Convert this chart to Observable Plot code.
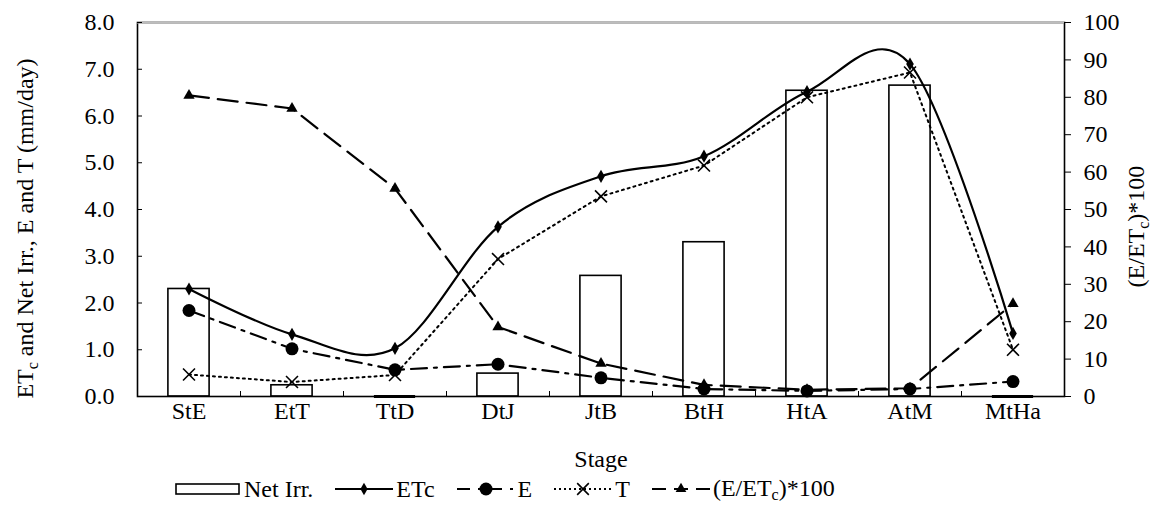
<!DOCTYPE html>
<html>
<head>
<meta charset="utf-8">
<script src="https://cdn.jsdelivr.net/npm/d3@7"></script>
<script src="https://cdn.jsdelivr.net/npm/@observablehq/plot@0.6"></script>
<style>
  body { margin: 0; background: #fff; font-family: "Liberation Serif", "Times New Roman", serif; color: #000; }
  #chart svg { display: block; overflow: visible; }
  #legend { width: 1160px; height: 34px; box-sizing: border-box; padding-left: 175px; display: flex; justify-content: flex-start; align-items: center; gap: 22px; font-size: 24px; font-family: "Liberation Serif", "Times New Roman", serif; }
  .item { display: flex; align-items: center; }
  .item svg { display: block; margin-right: 3px; }
</style>
</head>
<body>
<div id="chart"></div>
<div id="legend"></div>
<script>
// ---- data ----
const stages  = ["StE", "EtT", "TtD", "DtJ", "JtB", "BtH", "HtA", "AtM", "MtHa"];
const netIrr  = [2.30, 0.24, 0.00, 0.49, 2.58, 3.30, 6.54, 6.65, 0.00];
const etc     = [2.30, 1.33, 1.03, 3.63, 4.71, 5.14, 6.52, 7.11, 1.35];
const evap    = [1.84, 1.02, 0.57, 0.69, 0.40, 0.16, 0.12, 0.16, 0.32];
const transp  = [0.47, 0.31, 0.46, 2.94, 4.28, 4.94, 6.40, 6.93, 1.00];
const ratio   = [80.5, 77.0, 55.6, 18.6, 8.8, 3.1, 1.8, 2.2, 24.8];
const leftTicks  = [0, 1, 2, 3, 4, 5, 6, 7, 8];
const rightTicks = [0, 10, 20, 30, 40, 50, 60, 70, 80, 90, 100];
const legendLabels = ["Net Irr.", "ETc", "E", "T", "(E/ETc)*100"];

// secondary axis (0–100) mapped onto primary (0–8)
const k = 8 / 100;

const rows = stages.map((s, i) => ({
  i, stage: s, net: netIrr[i], etc: etc[i], e: evap[i], t: transp[i], r: ratio[i]
}));
const idx = stages.map((s, i) => i);
const bounds = idx.slice(1).map(i => i - 0.5);

const FS = 24;
const FONT = "'Liberation Serif', 'Times New Roman', serif";

const chart = Plot.plot({
  width: 1160,
  height: 472,
  marginLeft: 137,
  marginRight: 96,
  marginTop: 22,
  marginBottom: 76,
  style: { fontFamily: FONT, fontSize: FS + "px", color: "#000", background: "#fff" },
  x: { type: "linear", domain: [-0.5, 8.5], axis: null },
  y: { domain: [0, 8], axis: null },
  marks: [
    // bars (zero-height bars shown as a flat outline on the base)
    Plot.rectY(rows, { x1: d => d.i - 0.2, x2: d => d.i + 0.2, y: "net", fill: "white", stroke: "black", strokeWidth: 1.6 }),
    Plot.ruleY(rows.filter(d => d.net === 0), { y: "net", x1: d => d.i - 0.2, x2: d => d.i + 0.2, stroke: "black", strokeWidth: 3.2 }),
    // frame + top gridline
    Plot.frame({ stroke: "black", strokeWidth: 1.6 }),
    Plot.ruleY([8], { stroke: "#bdbdbd", strokeWidth: 2 }),
    // axes
    Plot.axisY(leftTicks, { anchor: "left", tickSize: -5, tickPadding: 28, tickFormat: d3.format(".1f"), label: null, fontSize: FS, fontFamily: FONT }),
    Plot.axisY(rightTicks.map(v => v * k), { anchor: "right", tickSize: 6, tickPadding: 13, tickFormat: d => Math.round(d / k), label: null, fontSize: FS, fontFamily: FONT }),
    Plot.axisX(bounds, { anchor: "bottom", tickSize: -5, tickFormat: () => "", label: null }),
    Plot.axisX(idx, { anchor: "bottom", tickSize: 0, tickPadding: 5, tickFormat: i => stages[i], label: null, fontSize: FS, fontFamily: FONT }),
    // ETc
    Plot.line(rows, { x: "i", y: "etc", curve: "cardinal", stroke: "black", strokeWidth: 2.2 }),
    Plot.dot(rows, { x: "i", y: "etc", symbol: "diamond", r: 4, fill: "black" }),
    // E
    Plot.line(rows, { x: "i", y: "e", stroke: "black", strokeWidth: 2.2, strokeDasharray: "16,7,3,7" }),
    Plot.dot(rows, { x: "i", y: "e", symbol: "circle", r: 6.5, fill: "black" }),
    // T
    Plot.line(rows, { x: "i", y: "t", stroke: "black", strokeWidth: 2, strokeDasharray: "2,4" }),
    Plot.dot(rows, { x: "i", y: "t", symbol: "times", r: 5.5, stroke: "black", strokeWidth: 1.6 }),
    // (E/ETc)*100 on secondary axis
    Plot.line(rows, { x: "i", y: d => d.r * k, stroke: "black", strokeWidth: 2.2, strokeDasharray: "20,9" }),
    Plot.dot(rows, { x: "i", y: d => d.r * k, symbol: "triangle", r: 4.2, fill: "black" }),
    // titles
    Plot.text(["ETc and Net Irr., E and T (mm/day)"], { text: d => d, frameAnchor: "left", textAnchor: "middle", dx: -112, dy: 19, rotate: -90, fontSize: FS, fontFamily: FONT }),
    Plot.text(["(E/ETc)*100"], { text: d => d, frameAnchor: "right", textAnchor: "middle", dx: 72, dy: 17, rotate: -90, fontSize: FS, fontFamily: FONT }),
    Plot.text(["Stage"], { text: d => d, frameAnchor: "bottom", dy: 70, fontSize: FS, fontFamily: FONT })
  ]
});
document.getElementById("chart").appendChild(chart);

// subscript "c" in the ET_c titles
function subscriptify(full, before, after) {
  d3.select(chart).selectAll("text").filter(function () { return this.textContent === full; }).each(function () {
    const t = d3.select(this);
    t.text(null);
    t.append("tspan").text(before);
    t.append("tspan").attr("font-size", 16).attr("dy", 5).text("c");
    t.append("tspan").attr("dy", -5).text(after);
  });
}
subscriptify("ETc and Net Irr., E and T (mm/day)", "ET", " and Net Irr., E and T (mm/day)");
subscriptify("(E/ETc)*100", "(E/ET", ")*100");

// legend
const legend = d3.select("#legend");
const SW = 58;
const swatches = [
  g => g.attr("width", 66).append("rect").attr("x", 1).attr("y", 12).attr("width", 63).attr("height", 10).attr("fill", "white").attr("stroke", "black").attr("stroke-width", 1.6),
  g => { g.append("line").attr("x1", 0).attr("x2", SW).attr("y1", 17).attr("y2", 17).attr("stroke", "black").attr("stroke-width", 2.2);
         g.append("path").attr("d", d3.symbol(d3.symbolDiamond, 45)()).attr("transform", `translate(${SW / 2},17)`); },
  g => { g.append("line").attr("x1", 0).attr("x2", SW).attr("y1", 17).attr("y2", 17).attr("stroke", "black").attr("stroke-width", 2.2).attr("stroke-dasharray", "13,8,3,8");
         g.append("circle").attr("cx", SW / 2).attr("cy", 17).attr("r", 6.5); },
  g => { g.append("line").attr("x1", 0).attr("x2", SW).attr("y1", 17).attr("y2", 17).attr("stroke", "black").attr("stroke-width", 2).attr("stroke-dasharray", "2,3");
         g.append("path").attr("d", d3.symbol(d3.symbolTimes, 90)()).attr("transform", `translate(${SW / 2},17)`).attr("stroke", "black").attr("stroke-width", 1.6); },
  g => { g.append("line").attr("x1", 0).attr("x2", SW).attr("y1", 17).attr("y2", 17).attr("stroke", "black").attr("stroke-width", 2.2).attr("stroke-dasharray", "14,8");
         g.append("path").attr("d", d3.symbol(d3.symbolTriangle, 50)()).attr("transform", `translate(${SW / 2},17)`); }
];
legendLabels.forEach((lab, j) => {
  const it = legend.append("div").attr("class", "item");
  const s = it.append("svg").attr("width", SW).attr("height", 34);
  swatches[j](s);
  const sp = it.append("span");
  if (j === 4) {
    sp.append("span").text("(E/ET");
    sp.append("sub").style("font-size", "16px").style("vertical-align", "-4px").text("c");
    sp.append("span").text(")*100");
  } else sp.text(lab);
});
</script>
</body>
</html>
